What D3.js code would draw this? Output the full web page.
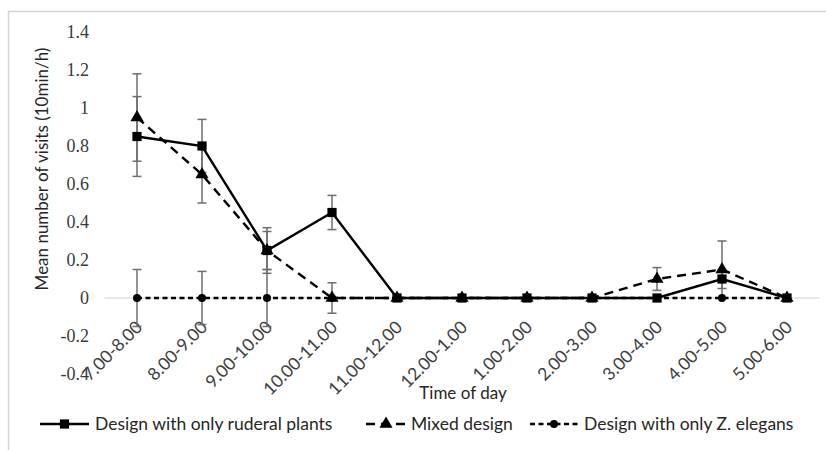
<!DOCTYPE html>
<html>
<head>
<meta charset="utf-8">
<script src="https://cdn.jsdelivr.net/npm/d3@7"></script>
<style>
  html, body { margin: 0; padding: 0; background: #fff; }
  svg { display: block; }
</style>
</head>
<body>
<svg id="chart" width="826" height="450"></svg>
<script>
// Time slots on the x axis
const categories = ["7.00-8.00", "8.00-9.00", "9.00-10.00", "10.00-11.00", "11.00-12.00",
  "12.00-1.00", "1.00-2.00", "2.00-3.00", "3.00-4.00", "4.00-5.00", "5.00-6.00"];

// Mean visits per design, with error half-widths
const ruderal    = [0.85, 0.80, 0.25, 0.45, 0, 0, 0, 0, 0, 0.10, 0];
const ruderalErr = [0.21, 0.14, 0.12, 0.09, 0, 0, 0, 0, 0, 0.05, 0];
const mixed      = [0.95, 0.65, 0.25, 0, 0, 0, 0, 0, 0.10, 0.15, 0];
const mixedErr   = [0.23, 0.15, 0.10, 0.08, 0, 0, 0, 0, 0.06, 0.15, 0];
const zelegans   = [0, 0, 0, 0, 0, 0, 0, 0, 0, 0, 0];
const zelegansErr = [0.15, 0.14, 0.15, 0, 0, 0, 0, 0, 0, 0, 0];

const yTicks = [1.4, 1.2, 1, 0.8, 0.6, 0.4, 0.2, 0, -0.2, -0.4];
const seriesNames = ["Design with only ruderal plants", "Mixed design", "Design with only Z. elegans"];

const sans = "Lato, 'Open Sans', sans-serif";
const serif = "'Liberation Serif', 'DejaVu Serif', serif";

const svg = d3.select("#chart");

// Outer frame
svg.append("rect")
  .attr("x", 8.5).attr("y", 11.5)
  .attr("width", 900).attr("height", 600)
  .attr("fill", "none").attr("stroke", "#d4d4d4").attr("stroke-width", 1.5);

const x = d3.scaleBand().domain(categories).range([104.5, 819.5]);
const cx = d => x(d) + x.bandwidth() / 2;
const y = d3.scaleLinear().domain([-0.4, 1.4]).range([374, 32]);

// Zero baseline
svg.append("line")
  .attr("x1", 104.5).attr("x2", 819.5)
  .attr("y1", y(0)).attr("y2", y(0))
  .attr("stroke", "#d0d0d0").attr("stroke-width", 1.2);

// Y axis labels (no axis line)
const yAxis = d3.axisLeft(y).tickValues(yTicks).tickSize(0).tickPadding(0)
  .tickFormat(d => String(+d.toFixed(1)));
const gy = svg.append("g").attr("transform", "translate(89,0)").call(yAxis);
gy.select(".domain").remove();
gy.attr("font-family", null).attr("font-size", null);
gy.selectAll("text")
  .style("font-family", serif).style("font-size", "18px").attr("fill", "#3a3a3a");

// X axis labels, rotated
const xAxis = d3.axisBottom(x).tickSize(0).tickPadding(0);
const gx = svg.append("g").attr("transform", `translate(0,${y(0)})`).call(xAxis);
gx.select(".domain").remove();
gx.attr("font-family", null).attr("font-size", null);
gx.selectAll(".tick text")
  .style("font-family", sans).style("font-size", "17.5px").attr("fill", "#404040")
  .attr("text-anchor", "end")
  .attr("dy", "0.35em").attr("y", 0)
  .attr("transform", "translate(2,26) rotate(-45)");

// Axis titles
svg.append("text")
  .attr("transform", "translate(42,169) rotate(-90)")
  .attr("text-anchor", "middle").attr("dy", "0.35em")
  .style("font-family", sans).style("font-size", "17px").attr("fill", "#262626")
  .text("Mean number of visits (10min/h)");

svg.append("text")
  .attr("x", 463).attr("y", 393)
  .attr("text-anchor", "middle").attr("dy", "0.35em")
  .style("font-family", sans).style("font-size", "17px").attr("fill", "#262626")
  .text("Time of day");

const series = [
  { name: seriesNames[0], values: ruderal, err: ruderalErr, dash: null, width: 2.4, marker: "square" },
  { name: seriesNames[1], values: mixed, err: mixedErr, dash: "9,6", width: 2.4, marker: "triangle" },
  { name: seriesNames[2], values: zelegans, err: zelegansErr, dash: "5,3.5", width: 2.4, marker: "circle" }
];

const symbolFor = m => m === "square" ? d3.symbol(d3.symbolSquare, 85)
  : m === "triangle" ? d3.symbol(d3.symbolTriangle, 75)
  : d3.symbol(d3.symbolCircle, 50);

// Error bars
series.forEach(s => {
  const g = svg.append("g").attr("stroke", "#6e6e6e").attr("stroke-width", 1.5);
  categories.forEach((c, i) => {
    const e = s.err[i];
    if (!e) return;
    const v = s.values[i];
    const px = cx(c);
    g.append("line").attr("x1", px).attr("x2", px).attr("y1", y(v - e)).attr("y2", y(v + e));
    [v - e, v + e].forEach(t => {
      g.append("line").attr("x1", px - 4.5).attr("x2", px + 4.5).attr("y1", y(t)).attr("y2", y(t));
    });
  });
});

// Lines and markers, last series drawn first so ruderal sits on top
const line = d3.line().x((d, i) => cx(categories[i])).y(d => y(d));
series.slice().reverse().forEach(s => {
  svg.append("path")
    .datum(s.values)
    .attr("d", line)
    .attr("fill", "none").attr("stroke", "#000")
    .attr("stroke-width", s.width)
    .attr("stroke-dasharray", s.dash);
  svg.append("g").selectAll("path")
    .data(s.values)
    .join("path")
    .attr("d", symbolFor(s.marker))
    .attr("transform", (d, i) => `translate(${cx(categories[i])},${y(d)})`)
    .attr("fill", "#000");
});

// Legend
const legendY = 424;
const legendItems = [
  { s: series[0], x0: 40, x1: 89, tx: 95 },
  { s: series[1], x0: 366, x1: 406, tx: 411 },
  { s: series[2], x0: 530, x1: 578, tx: 584 }
];
legendItems.forEach(it => {
  svg.append("line")
    .attr("x1", it.x0).attr("x2", it.x1).attr("y1", legendY).attr("y2", legendY)
    .attr("stroke", "#000").attr("stroke-width", it.s.width)
    .attr("stroke-dasharray", it.s.dash);
  svg.append("path")
    .attr("d", symbolFor(it.s.marker)())
    .attr("transform", `translate(${(it.x0 + it.x1) / 2},${legendY})`)
    .attr("fill", "#000");
  svg.append("text")
    .attr("x", it.tx).attr("y", legendY).attr("dy", "0.35em")
    .style("font-family", sans).style("font-size", "17.5px").attr("fill", "#262626")
    .text(it.s.name);
});
</script>
</body>
</html>
